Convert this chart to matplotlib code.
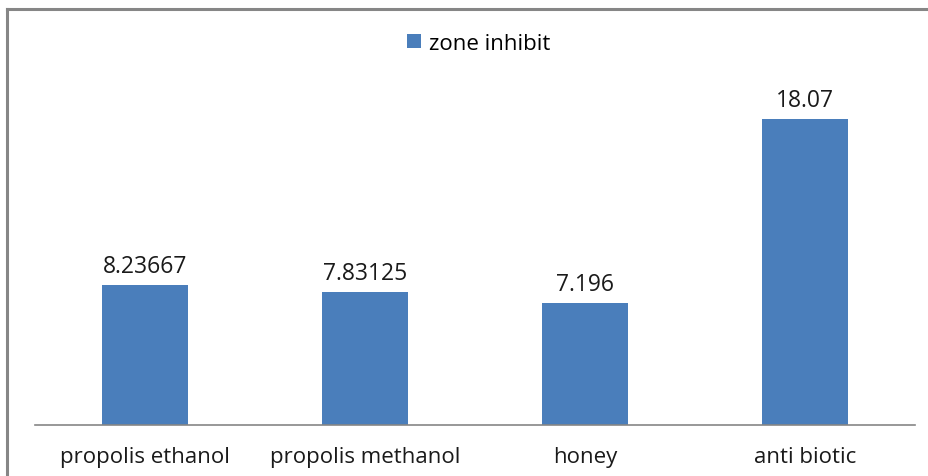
import matplotlib.pyplot as plt
from matplotlib.lines import Line2D

categories = ["propolis ethanol", "propolis methanol", "honey", "anti biotic"]
zone_inhibit = [8.23667, 7.83125, 7.196, 18.07]
value_labels = ["8.23667", "7.83125", "7.196", "18.07"]

plt.rcParams['font.family'] = ['Open Sans', 'DejaVu Sans']

fig = plt.figure(figsize=(9.29, 4.77), dpi=100)
ax = fig.add_axes([35 / 929, 51 / 477, 880 / 929, 339 / 477])

x = range(len(categories))
bars = ax.bar(x, zone_inhibit, width=0.39, color="#4A7EBB", label="zone inhibit")

for xi, v, lab in zip(x, zone_inhibit, value_labels):
    ax.annotate(lab, (xi, v), xytext=(0, 5), textcoords="offset points",
                ha="center", va="bottom", fontsize=16.5, color="#1a1a1a")

ax.set_xlim(-0.5, 3.5)
ax.set_ylim(0, 20)
ax.set_xticks(list(x))
ax.set_xticklabels(categories, fontsize=16, color="#1a1a1a")
ax.tick_params(axis="x", length=0, pad=15)
ax.set_yticks([])
for s in ["top", "right", "left"]:
    ax.spines[s].set_visible(False)
ax.spines["bottom"].set_color("#868686")
ax.spines["bottom"].set_linewidth(1.2)

# legende
fig.legend(handles=[bars], labels=["zone inhibit"], loc="center",
           bbox_to_anchor=(479 / 929, 1 - 44 / 477), frameon=False,
           fontsize=16, handlelength=0.6, handleheight=0.6, handletextpad=0.4)

# cadre du graphique (coupe)
fig.add_artist(Line2D([7 / 929, 1], [1 - 10 / 477, 1 - 10 / 477], color="#868686", lw=2.2))
fig.add_artist(Line2D([7 / 929, 7 / 929], [0, 1 - 10 / 477], color="#868686", lw=2.2))

fig.savefig("out.png", dpi=100)
